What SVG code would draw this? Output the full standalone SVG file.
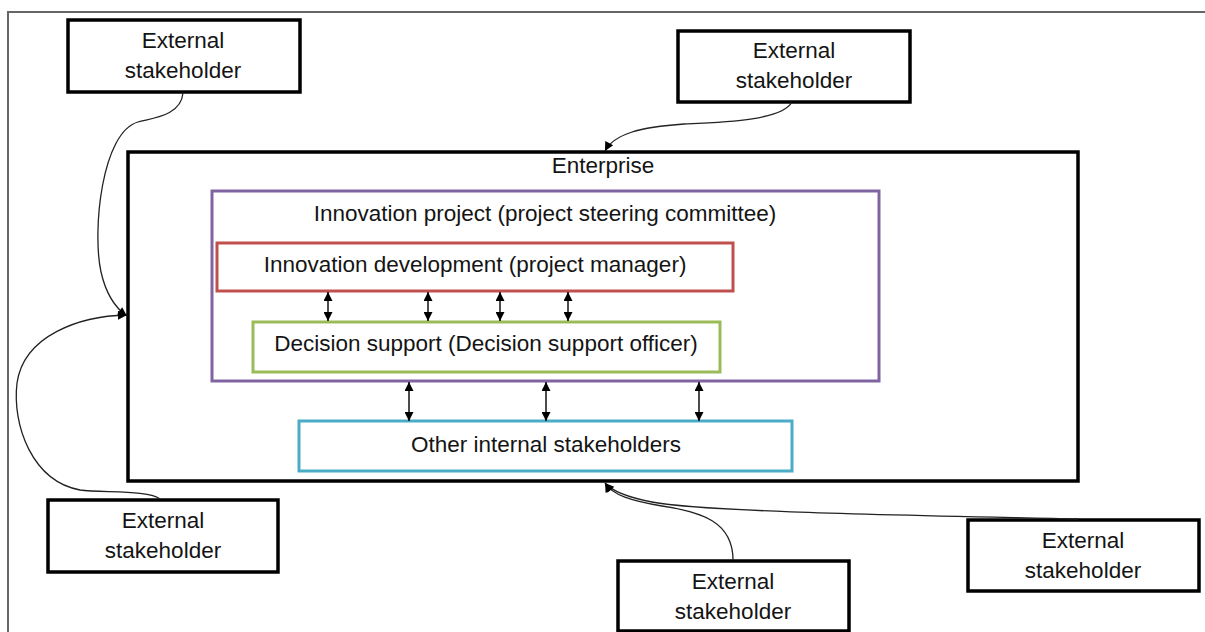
<svg xmlns="http://www.w3.org/2000/svg" width="1205" height="632" viewBox="0 0 1205 632">
<style>
  text{font-family:"Liberation Sans",Arial,sans-serif;font-size:22.5px;fill:#141414;text-anchor:middle}
  .ext{fill:#fff;stroke:#000;stroke-width:3.5}
  .conn{fill:none;stroke:#222;stroke-width:1.3}
  .dbl{stroke:#111;stroke-width:1.5}
</style>
<defs>
  <marker id="ah" viewBox="0 0 10 10" refX="10" refY="5" markerWidth="11" markerHeight="9" orient="auto-start-reverse" markerUnits="userSpaceOnUse">
    <path d="M0,0 L10,5 L0,10 z" fill="#000"/>
  </marker>
  <marker id="ah2" viewBox="0 0 10 10" refX="10" refY="5" markerWidth="9" markerHeight="9" orient="auto-start-reverse" markerUnits="userSpaceOnUse">
    <path d="M0,0 L10,5 L0,10 z" fill="#000"/>
  </marker>
</defs>
<rect width="1205" height="632" fill="#fff"/>
<path d="M8,640 L8,12 L1210,12" fill="none" stroke="#666" stroke-width="2"/>

<g id="enterprise">
  <rect x="128" y="152" width="950" height="329" fill="none" stroke="#000" stroke-width="3.5"/>
  <text x="603" y="173">Enterprise</text>
</g>
<g id="innovation-project">
  <rect x="212" y="191" width="667" height="190" fill="none" stroke="#8064A2" stroke-width="3"/>
  <text x="545" y="221">Innovation project (project steering committee)</text>
</g>
<g id="innovation-development">
  <rect x="217" y="243" width="516" height="48" fill="none" stroke="#C0504D" stroke-width="3"/>
  <text x="475" y="272">Innovation development (project manager)</text>
</g>
<g id="decision-support">
  <rect x="253" y="322" width="467" height="50" fill="none" stroke="#9BBB59" stroke-width="3"/>
  <text x="486" y="351">Decision support (Decision support officer)</text>
</g>
<g id="other-internal">
  <rect x="299" y="421" width="493" height="50" fill="none" stroke="#4BACC6" stroke-width="3"/>
  <text x="546" y="452">Other internal stakeholders</text>
</g>

<g id="ext-top-left">
  <rect class="ext" x="68" y="20" width="232" height="72"/>
  <text x="183" y="48">External</text>
  <text x="183" y="78">stakeholder</text>
</g>
<g id="ext-top-right">
  <rect class="ext" x="678" y="31" width="232" height="71"/>
  <text x="794" y="58">External</text>
  <text x="794" y="88">stakeholder</text>
</g>
<g id="ext-bottom-left">
  <rect class="ext" x="48" y="500" width="230" height="72"/>
  <text x="163" y="528">External</text>
  <text x="163" y="558">stakeholder</text>
</g>
<g id="ext-bottom-middle">
  <rect class="ext" x="618" y="561" width="231" height="70"/>
  <text x="733" y="589">External</text>
  <text x="733" y="619">stakeholder</text>
</g>
<g id="ext-bottom-right">
  <rect class="ext" x="968" y="520" width="231" height="71"/>
  <text x="1083" y="548">External</text>
  <text x="1083" y="578">stakeholder</text>
</g>

<g id="connectors">
  <path class="conn" marker-end="url(#ah)" d="M183,93 C181,116 152,118 138,122 C102,132 92,230 101,272 C106,294 114,307 127,316"/>
  <path class="conn" marker-end="url(#ah)" d="M160,499 C150,490 102,493 80,490 C32,481 12,425 17,383 C24,335 80,316 127,315"/>
  <path class="conn" marker-end="url(#ah)" d="M792,102 C782,120 728,122 684,124 C640,127 614,134 605,151"/>
  <path class="conn" marker-end="url(#ah)" d="M733,560 C733,522 702,512 662,506 C632,501 612,495 605,483"/>
  <path class="conn" marker-end="url(#ah)" d="M1078,519 C900,515 705,512 652,502 C626,497 612,491 605,483"/>
  <line class="dbl" x1="328" y1="292" x2="328" y2="321" marker-start="url(#ah2)" marker-end="url(#ah2)"/>
  <line class="dbl" x1="428" y1="292" x2="428" y2="321" marker-start="url(#ah2)" marker-end="url(#ah2)"/>
  <line class="dbl" x1="500" y1="292" x2="500" y2="321" marker-start="url(#ah2)" marker-end="url(#ah2)"/>
  <line class="dbl" x1="568" y1="292" x2="568" y2="321" marker-start="url(#ah2)" marker-end="url(#ah2)"/>
  <line class="dbl" x1="409" y1="382" x2="409" y2="421" marker-start="url(#ah2)" marker-end="url(#ah2)"/>
  <line class="dbl" x1="546" y1="382" x2="546" y2="421" marker-start="url(#ah2)" marker-end="url(#ah2)"/>
  <line class="dbl" x1="699" y1="382" x2="699" y2="421" marker-start="url(#ah2)" marker-end="url(#ah2)"/>
</g>
</svg>
